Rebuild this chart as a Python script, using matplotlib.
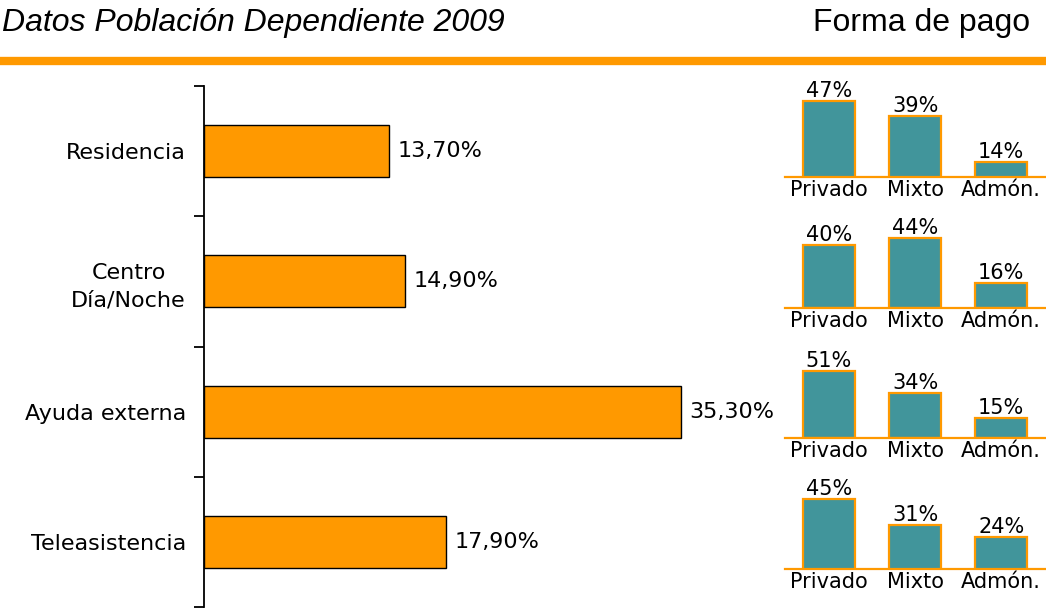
import numpy as np
import matplotlib.pyplot as plt
from matplotlib.lines import Line2D

# main chart data
categorias = ["Residencia", "Centro\nDía/Noche", "Ayuda externa", "Teleasistencia"]
porcentajes = [13.7, 14.9, 35.3, 17.9]

# forma de pago, one row per category
tipos_pago = ["Privado", "Mixto", "Admón."]
pago_residencia = [47, 39, 14]
pago_centro = [40, 44, 16]
pago_ayuda = [51, 34, 15]
pago_tele = [45, 31, 24]
# y limits of each small chart
limites_pago = [(6, 57), (0, 60), (0, 72), (6.5, 59)]

naranja = "#FF9900"
verde = "#41959B"

W, H = 1046, 614
fig = plt.figure(figsize=(W / 100, H / 100), dpi=100)

def px_axes(x0, y0, x1, y1):
    # pixel box (top-left origin) -> figure axes
    return fig.add_axes([x0 / W, 1 - y1 / H, (x1 - x0) / W, (y1 - y0) / H])

# title and header line
fig.text(2 / W, 1 - 23 / H, "Datos Población Dependiente 2009", fontsize=23,
         style="italic", family=["Liberation Sans Narrow", "Liberation Sans"],
         va="center", ha="left")
fig.text(1030 / W, 1 - 23 / H, "Forma de pago", fontsize=23,
         family=["Liberation Sans Narrow", "Liberation Sans"], va="center", ha="right")
fig.add_artist(Line2D([0, 1], [1 - 61 / H, 1 - 61 / H], color=naranja, lw=6,
                      transform=fig.transFigure))

# main horizontal bars
ax = px_axes(204, 86, 780, 607)
y = np.arange(len(categorias))
ax.barh(y, porcentajes, height=0.4, color=naranja, edgecolor="black", linewidth=1)
ax.set_ylim(3.5, -0.5)
ax.set_xlim(0, 42.6)
ax.set_yticks(y)
ax.set_yticklabels(categorias, fontsize=16, multialignment="center", linespacing=1.45)
ax.tick_params(axis="y", which="major", length=0, pad=13)
ax.set_yticks(np.arange(-0.5, 4, 1), minor=True)
ax.tick_params(axis="y", which="minor", length=7, width=1.3, direction="out")
ax.set_xticks([])
for s in ["top", "right", "bottom"]:
    ax.spines[s].set_visible(False)
ax.spines["left"].set_linewidth(1.3)
for yi, v in zip(y, porcentajes):
    ax.annotate(("%.2f%%" % v).replace(".", ","), (v, yi), xytext=(6, 0),
                textcoords="offset points", va="center", ha="left", fontsize=16)

# small payment charts
pagos = [pago_residencia, pago_centro, pago_ayuda, pago_tele]
bases = [177, 308, 438, 569]
x = np.arange(len(tipos_pago))
for vals, base, lim in zip(pagos, bases, limites_pago):
    a = px_axes(785, base - 95, 1046, base)
    a.bar(x, vals, width=0.6, color=verde, edgecolor=naranja, linewidth=1.6)
    a.set_ylim(*lim)
    a.set_xlim(-0.51, 2.52)
    a.set_yticks([])
    a.set_xticks(x)
    a.set_xticklabels(tipos_pago, fontsize=15)
    a.tick_params(axis="x", length=0, pad=2)
    for s in ["top", "right", "left"]:
        a.spines[s].set_visible(False)
    a.spines["bottom"].set_color(naranja)
    a.spines["bottom"].set_linewidth(1.6)
    for xi, v in zip(x, vals):
        a.annotate("%d%%" % v, (xi, v), xytext=(0, 0), textcoords="offset points",
                   ha="center", va="bottom", fontsize=15)
    a.patch.set_alpha(0)

fig.savefig("out.png", dpi=100)
